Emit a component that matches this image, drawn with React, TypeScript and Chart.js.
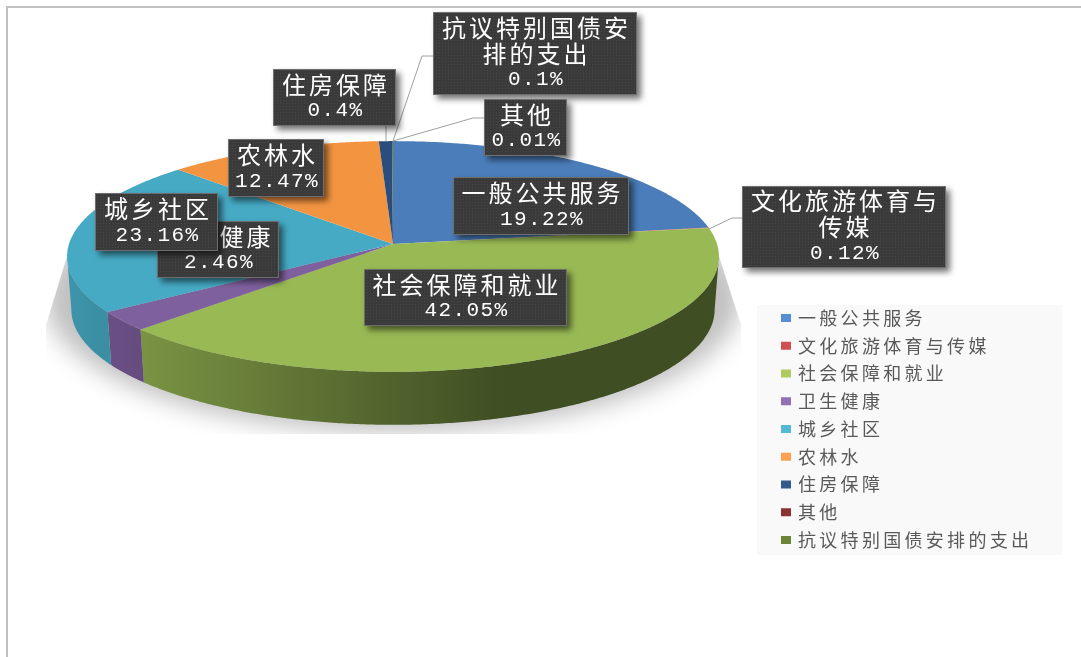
import React, { useEffect, useRef } from "react";
import { Chart, registerables } from "chart.js";

Chart.register(...registerables);

const categories = ["一般公共服务", "文化旅游体育与传媒", "社会保障和就业", "卫生健康", "城乡社区", "农林水", "住房保障", "其他", "抗议特别国债安排的支出"];
const shares = [19.22, 0.12, 42.05, 2.46, 23.16, 12.47, 0.4, 0.01, 0.1];
const faceColors = ["#4a7dba", "#be4b48", "#98b954", "#7f609f", "#46aac4", "#f39441", "#2a4d7c", "#772c2a", "#5f7530"];
const legendColors = ["#558ed5", "#d05050", "#afca5f", "#9170b5", "#55b8d5", "#fda050", "#345a8c", "#8a3330", "#6b8436"];

const labelLayout = [
  { i: 3, lines: ["卫生健康"], box: [157, 221, 279, 278] },
  { i: 4, lines: ["城乡社区"], box: [95, 193, 218, 251] },
  { i: 5, lines: ["农林水"], box: [228, 139, 324, 197] },
  { i: 6, lines: ["住房保障"], box: [273, 69, 396, 126] },
  { i: 8, lines: ["抗议特别国债安", "排的支出"], box: [433, 12, 637, 95] },
  { i: 7, lines: ["其他"], box: [484, 99, 567, 156] },
  { i: 0, lines: ["一般公共服务"], box: [453, 177, 629, 235] },
  { i: 1, lines: ["文化旅游体育与", "传媒"], box: [742, 186, 946, 268] },
  { i: 2, lines: ["社会保障和就业"], box: [364, 269, 567, 326] },
];
const leaderLines = [
  [[386, 126], [386, 141]],
  [[433, 56], [422, 56], [393, 141]],
  [[484, 118], [473, 118], [393, 141]],
  [[742, 218], [732, 218], [709, 229]],
];

const X0 = 393, Y0 = 244, A = 114, B = 324, K = 0.108, DEPTH = 53;
// the reference's 3D camera skews the sweep of the slices: [library angle, drawn angle] in degrees
const sweepSkew = [[0, 0], [69.2, 81.6], [69.6, 81.8], [221, 226.1], [229.9, 235.9], [313.2, 314.5], [358.1, 357.1], [359.6, 359.8], [360, 360]];

const skew = (deg: number) => {
  for (let i = 1; i < sweepSkew.length; i++) {
    const [a0, b0] = sweepSkew[i - 1];
    const [a1, b1] = sweepSkew[i];
    if (deg <= a1) return b0 + ((deg - a0) / (a1 - a0)) * (b1 - b0);
  }
  return deg;
};
const project = (deg: number, scale = 1) => {
  const t = (deg * Math.PI) / 180;
  const w = 1 + K * Math.cos(t);
  return [X0 + (B * Math.sin(t) * scale) / w, Y0 - (A * Math.cos(t) * scale) / w];
};
const sliceRange = (el: any) => {
  const a = ((el.startAngle + Math.PI / 2) * 180) / Math.PI;
  const b = ((el.endAngle + Math.PI / 2) * 180) / Math.PI;
  return [skew(a), skew(b)];
};
const rgb = (hex: string, f: number) => {
  const n = parseInt(hex.slice(1), 16);
  return `rgb(${Math.round(((n >> 16) & 255) * f)},${Math.round(((n >> 8) & 255) * f)},${Math.round((n & 255) * f)})`;
};

const drawFace = (el: any, ctx: CanvasRenderingContext2D, color: string) => {
  const [a, b] = sliceRange(el);
  ctx.save();
  ctx.beginPath();
  ctx.moveTo(X0, Y0);
  const steps = Math.max(2, Math.ceil((b - a) / 0.5));
  for (let s = 0; s <= steps; s++) {
    const [x, y] = project(a + ((b - a) * s) / steps);
    ctx.lineTo(x, y);
  }
  ctx.closePath();
  ctx.fillStyle = color;
  ctx.fill();
  ctx.restore();
};

const threeD = {
  id: "threeD",
  afterLayout(chart: any) {
    const lg = chart.legend;
    lg.left = 773.25;
    lg.right = 1062;
    lg.top = 299.25;
    lg.bottom = 800;
  },
  beforeDraw(chart: any) {
    const ctx = chart.ctx as CanvasRenderingContext2D;
    ctx.save();
    ctx.fillStyle = "#ffffff";
    ctx.fillRect(0, 0, chart.width, chart.height);
    ctx.fillStyle = "#c0c0c0";
    ctx.fillRect(6, 6, chart.width - 6, 2);
    ctx.fillRect(6, 6, 2, chart.height - 6);
    ctx.fillStyle = "#f9f9f9";
    ctx.fillRect(757, 305, 305, 250);
    ctx.restore();
    (ctx as any).letterSpacing = "3.3px";
  },
  beforeDatasetsDraw(chart: any) {
    const ctx = chart.ctx as CanvasRenderingContext2D;
    (ctx as any).letterSpacing = "0px";
    ctx.save();
    ctx.beginPath();
    ctx.moveTo(68, 253);
    ctx.lineTo(46, 325);
    ctx.lineTo(46, 434);
    ctx.lineTo(741, 434);
    ctx.lineTo(741, 325);
    ctx.lineTo(718, 253);
    ctx.closePath();
    ctx.clip();
    (ctx as any).filter = "blur(12px)";
    ctx.fillStyle = "#c0c0c0";
    ctx.beginPath();
    ctx.ellipse(393, 298, 348, 134, 0, 0, Math.PI * 2);
    ctx.fill();
    ctx.restore();

    const meta = chart.getDatasetMeta(0);
    const right = (Math.acos(-K) * 180) / Math.PI;
    const left = 360 - right;
    meta.data.forEach((el: any, i: number) => {
      el.draw = (c: CanvasRenderingContext2D) => drawFace(el, c, faceColors[i]);
      const [a0, b0] = sliceRange(el);
      const a = Math.max(a0, right);
      const b = Math.min(b0, left);
      if (b <= a) return;
      const top: number[][] = [];
      const bot: number[][] = [];
      const steps = Math.max(2, Math.ceil((b - a) / 0.5));
      for (let s = 0; s <= steps; s++) {
        const d = a + ((b - a) * s) / steps;
        const p = project(d);
        top.push(p);
        bot.push([X0 + (p[0] - X0) * 0.987, p[1] + DEPTH]);
      }
      const g = ctx.createLinearGradient(60, 0, 720, 0);
      g.addColorStop(0, rgb(faceColors[i], 0.88));
      g.addColorStop(440 / 660, rgb(faceColors[i], 0.42));
      g.addColorStop(1, rgb(faceColors[i], 0.42));
      ctx.beginPath();
      top.forEach(([x, y], j) => (j ? ctx.lineTo(x, y) : ctx.moveTo(x, y)));
      bot.reverse().forEach(([x, y]) => ctx.lineTo(x, y));
      ctx.closePath();
      ctx.fillStyle = g;
      ctx.fill();
    });
  },
  afterDatasetsDraw(chart: any) {
    const ctx = chart.ctx as CanvasRenderingContext2D;
    ctx.save();
    ctx.strokeStyle = "#a0a0a0";
    ctx.lineWidth = 1;
    leaderLines.forEach((pts) => {
      ctx.beginPath();
      pts.forEach(([x, y], j) => (j ? ctx.lineTo(x, y) : ctx.moveTo(x, y)));
      ctx.stroke();
    });
    const tile = document.createElement("canvas");
    tile.width = 3;
    tile.height = 3;
    const t = tile.getContext("2d")!;
    t.fillStyle = "#3a3a3a";
    t.fillRect(0, 0, 3, 3);
    t.fillStyle = "#474747";
    t.fillRect(1, 1, 1, 1);
    const pattern = ctx.createPattern(tile, "repeat")!;
    labelLayout.forEach(({ i, lines, box }) => {
      const [l, tp, r, b] = box;
      ctx.save();
      ctx.shadowColor = "rgba(0,0,0,0.55)";
      ctx.shadowOffsetX = 4;
      ctx.shadowOffsetY = 4;
      ctx.shadowBlur = 6;
      ctx.fillStyle = pattern;
      ctx.fillRect(l, tp, r - l, b - tp);
      ctx.restore();
      ctx.strokeStyle = "#6e6e6e";
      ctx.lineWidth = 1;
      ctx.strokeRect(l + 0.5, tp + 0.5, r - l - 1, b - tp - 1);
      const all = [...lines, `${shares[i]}%`];
      const cx = (l + r) / 2;
      const cy = (tp + b) / 2;
      ctx.fillStyle = "#ffffff";
      ctx.textAlign = "center";
      ctx.textBaseline = "middle";
      all.forEach((line, j) => {
        const isNum = j === all.length - 1;
        ctx.font = isNum ? '21px "Liberation Mono"' : '24px "Noto Sans CJK SC"';
        (ctx as any).letterSpacing = isNum ? "1.4px" : "3px";
        ctx.fillText(line, cx + (isNum ? 1 : 1.5), cy + (j - (all.length - 1) / 2) * 26);
      });
    });
    (ctx as any).letterSpacing = "0px";
    ctx.restore();
  },
};

export default function App() {
  const ref = useRef<HTMLCanvasElement>(null);
  useEffect(() => {
    const chart = new Chart(ref.current!, {
      type: "pie",
      data: {
        labels: categories,
        datasets: [{ data: shares, backgroundColor: faceColors, borderWidth: 0, clip: false } as any],
      },
      plugins: [threeD],
      options: {
        responsive: false,
        animation: false,
        events: [],
        plugins: {
          tooltip: { enabled: false },
          legend: {
            display: true,
            position: "right",
            align: "start",
            labels: {
              boxWidth: 6,
              boxHeight: 4,
              padding: 9.75,
              color: "#595959",
              font: { family: '"Noto Sans CJK SC"', size: 18 },
              generateLabels: () =>
                categories.map((text, i) => ({
                  text,
                  fillStyle: legendColors[i],
                  strokeStyle: legendColors[i],
                  lineWidth: 4,
                  fontColor: "#595959",
                  index: i,
                })),
            },
          },
        },
      } as any,
    });
    return () => chart.destroy();
  }, []);
  return (
    <div style={{ position: "fixed", left: 0, top: 0, width: 1081, height: 657, background: "#fff" }}>
      <canvas ref={ref} width={1081} height={657} style={{ display: "block", filter: "blur(0.5px)" }} />
    </div>
  );
}
